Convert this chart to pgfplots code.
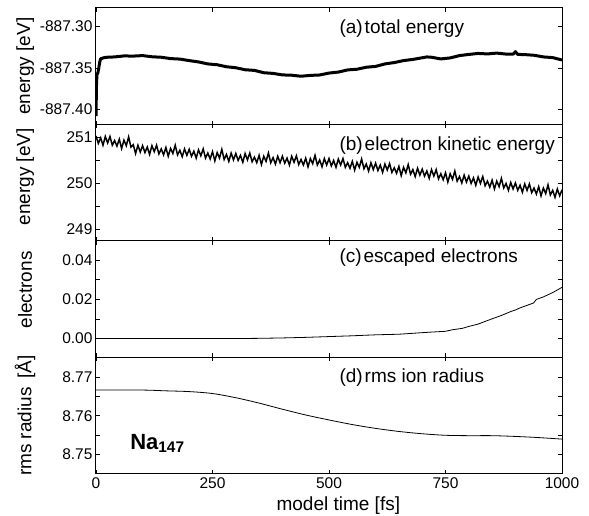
\documentclass[border=0pt]{standalone}
\usepackage{fontspec}
\setmainfont{Liberation Sans}
\usepackage{pgfplots}
\pgfplotsset{compat=1.18}
\usepgfplotslibrary{groupplots}
\newcommand\tickfont{\fontsize{15.5}{18}\selectfont}
\newcommand\labfont{\fontsize{19}{22}\selectfont}

\begin{document}
\begin{tikzpicture}[font=\labfont]
\begin{groupplot}[
  group style={group size=1 by 4, vertical sep=0pt, x descriptions at=edge bottom},
  scale only axis, width=466pt, height=116.5pt,
  xmin=0, xmax=1000, xtick={0,250,500,750,1000},
  xticklabels={0,250,500,750,1000},
  scaled y ticks=false,
  /pgf/number format/assume math mode=true,
  tick label style={font=\tickfont},
  label style={font=\labfont},
  tick align=inside, tick pos=both,
  major tick length=4pt, minor tick length=4pt,
  axis line style={line width=1pt},
  every tick/.style={line width=0.8pt, black},
  every axis y label/.style={at={(axis description cs:-0.152,0.5)},rotate=90,anchor=center},
]
% (a) total energy
\nextgroupplot[ymin=-887.418, ymax=-887.278,
  ytick={-887.40,-887.35,-887.30}, yticklabels={-887.40,-887.35,-887.30},
  ylabel={energy [eV]}]
\addplot[black, mark=none, line width=3pt, line join=round] coordinates {
(0,-887.408) (1,-887.372) (2,-887.358) (4,-887.356) (6,-887.350) (8,-887.343) (10,-887.339)
(20,-887.3373) (40,-887.3368) (60,-887.3356) (80,-887.3358) (100,-887.3352)
(120,-887.3366) (140,-887.3372) (160,-887.3388) (180,-887.3394) (200,-887.3412)
(220,-887.3428) (240,-887.3452) (260,-887.3462) (280,-887.3486) (300,-887.3498)
(320,-887.3522) (340,-887.3530) (360,-887.3558) (380,-887.3566) (400,-887.3584)
(420,-887.3588) (440,-887.3600) (460,-887.3590) (480,-887.3585) (500,-887.3562)
(520,-887.3550) (540,-887.3524) (560,-887.3516) (580,-887.3492) (600,-887.3482)
(620,-887.3452) (640,-887.3436) (660,-887.3412) (680,-887.3398) (700,-887.3378)
(710,-887.3368) (720,-887.3372) (740,-887.3392) (760,-887.3380) (780,-887.3352)
(800,-887.3338) (820,-887.3326) (840,-887.3332) (860,-887.3322) (880,-887.3334)
(895,-887.3335) (900,-887.3305) (905,-887.3338) (920,-887.3340) (940,-887.3348)
(960,-887.3368) (980,-887.3376) (1000,-887.3405)
};
\node[anchor=base west] at (rel axis cs:0.515,0.78) {(a)\hspace{2pt}total energy};

% (b) electron kinetic energy
\nextgroupplot[ymin=248.75, ymax=251.28,
  ytick={249,250,251}, yticklabels={249,250,251}, minor ytick={249.5,250.5},
  ylabel={energy [eV]}, ylabel style={at={(axis description cs:-0.152,0.55)}}]
\addplot[black, mark=none, line width=1.5pt] coordinates {
(0,251.03) (5,250.87) (10,250.99) (15,250.83) (20,251.02) (25,250.88) (30,251.02) (35,250.83)
(40,250.93) (45,250.81) (50,250.96) (55,250.76) (60,250.94) (65,250.82) (70,251.01) (75,250.79)
(80,250.84) (85,250.65) (90,250.83) (95,250.68) (100,250.82) (105,250.67) (110,250.79) (115,250.63)
(120,250.82) (125,250.69) (130,250.83) (135,250.64) (140,250.75) (145,250.62) (150,250.78) (155,250.59)
(160,250.76) (165,250.65) (170,250.83) (175,250.62) (180,250.72) (185,250.58) (190,250.75) (195,250.61)
(200,250.74) (205,250.59) (210,250.70) (215,250.55) (220,250.73) (225,250.60) (230,250.75) (235,250.55)
(240,250.66) (245,250.53) (250,250.69) (255,250.49) (260,250.67) (265,250.55) (270,250.74) (275,250.52)
(280,250.63) (285,250.48) (290,250.66) (295,250.51) (300,250.65) (305,250.50) (310,250.61) (315,250.46)
(320,250.65) (325,250.51) (330,250.66) (335,250.47) (340,250.57) (345,250.45) (350,250.61) (355,250.41)
(360,250.59) (365,250.48) (370,250.66) (375,250.45) (380,250.56) (385,250.42) (390,250.59) (395,250.45)
(400,250.59) (405,250.44) (410,250.55) (415,250.40) (420,250.59) (425,250.46) (430,250.60) (435,250.41)
(440,250.52) (445,250.40) (450,250.55) (455,250.36) (460,250.54) (465,250.43) (470,250.61) (475,250.40)
(480,250.51) (485,250.36) (490,250.54) (495,250.40) (500,250.54) (505,250.38) (510,250.50) (515,250.35)
(520,250.53) (525,250.40) (530,250.54) (535,250.35) (540,250.45) (545,250.33) (550,250.48) (555,250.29)
(560,250.46) (565,250.35) (570,250.53) (575,250.32) (580,250.42) (585,250.27) (590,250.45) (595,250.30)
(600,250.44) (605,250.28) (610,250.40) (615,250.24) (620,250.42) (625,250.29) (630,250.43) (635,250.24)
(640,250.34) (645,250.22) (650,250.37) (655,250.17) (660,250.35) (665,250.23) (670,250.41) (675,250.20)
(680,250.30) (685,250.15) (690,250.33) (695,250.18) (700,250.31) (705,250.16) (710,250.27) (715,250.11)
(720,250.30) (725,250.16) (730,250.30) (735,250.10) (740,250.21) (745,250.08) (750,250.23) (755,250.03)
(760,250.21) (765,250.09) (770,250.27) (775,250.05) (780,250.15) (785,250.01) (790,250.18) (795,250.03)
(800,250.16) (805,250.00) (810,250.12) (815,249.96) (820,250.14) (825,250.00) (830,250.15) (835,249.95)
(840,250.05) (845,249.92) (850,250.07) (855,249.88) (860,250.05) (865,249.93) (870,250.11) (875,249.90)
(880,250.00) (885,249.85) (890,250.02) (895,249.88) (900,250.01) (905,249.85) (910,249.96) (915,249.81)
(920,249.99) (925,249.85) (930,249.99) (935,249.80) (940,249.90) (945,249.77) (950,249.93) (955,249.73)
(960,249.90) (965,249.78) (970,249.97) (975,249.75) (980,249.85) (985,249.70) (990,249.88) (995,249.73)
(1000,249.86)
};
\node[anchor=base west] at (rel axis cs:0.515,0.777) {(b)\hspace{2pt}electron kinetic energy};

% (c) escaped electrons
\nextgroupplot[ymin=-0.0097, ymax=0.0499,
  ytick={0,0.02,0.04}, yticklabels={0.00,0.02,0.04}, minor ytick={0.01,0.03},
  ylabel={electrons}, ylabel style={at={(axis description cs:-0.152,0.58)}}]
\addplot[black, mark=none, line width=0.8pt] coordinates {
(0,0) (300,0) (350,0.0001) (400,0.0003) (450,0.0006) (500,0.0010) (550,0.0014)
(600,0.0019) (650,0.0022) (700,0.0030) (720,0.0033) (750,0.0037) (765,0.0045)
(786,0.0052) (800,0.0062) (820,0.0074) (849,0.0100) (870,0.0118) (890,0.0138)
(900,0.0146) (910,0.0157) (930,0.0174) (939,0.0182) (945,0.0200) (960,0.0213)
(980,0.0235) (1000,0.0262)
};
\node[anchor=base west] at (rel axis cs:0.515,0.815) {(c)\hspace{2pt}escaped electrons};

% (d) rms ion radius
\nextgroupplot[ymin=8.7448, ymax=8.7752,
  ytick={8.75,8.76,8.77}, yticklabels={8.75,8.76,8.77}, minor ytick={8.755,8.765},
  ylabel={rms radius\ \,[Å]}, xlabel={model time [fs]},
  xlabel style={at={(axis description cs:0.52,0)},anchor=base,yshift=-37pt}]
\addplot[black, mark=none, line width=0.8pt, smooth] coordinates {
(0,8.7667) (100,8.7667) (150,8.7665) (200,8.7663) (250,8.7658) (300,8.7647)
(350,8.7633) (400,8.7617) (450,8.7602) (500,8.7589) (550,8.7577) (600,8.7567)
(650,8.7559) (700,8.7553) (750,8.7549) (800,8.7548) (850,8.7548) (900,8.7546)
(950,8.7543) (1000,8.7539)
};
\node[anchor=base west] at (rel axis cs:0.515,0.786) {(d)\hspace{2pt}rms ion radius};
\node[anchor=base west, font=\fontsize{22}{26}\selectfont\bfseries] at (rel axis cs:0.066,0.214) {Na\textsubscript{147}};
\end{groupplot}
\pgfresetboundingbox
\path[use as bounding box] ([xshift=-96pt,yshift=8pt]group c1r1.north west) rectangle ([xshift=27pt,yshift=-42pt]group c1r4.south east);
\end{tikzpicture}
\end{document}
